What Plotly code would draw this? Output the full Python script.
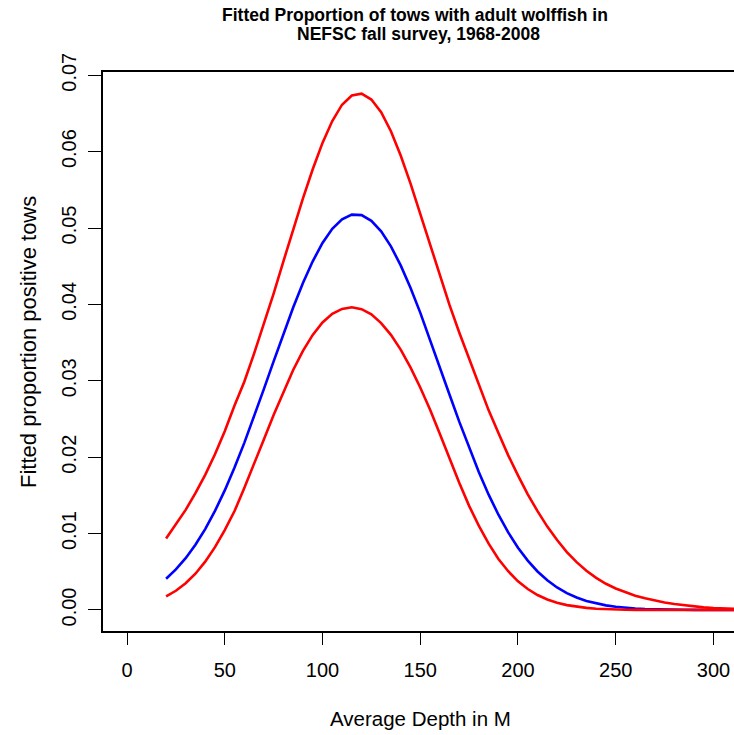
import plotly.graph_objects as go

depth = [20, 25, 30, 35, 40, 45, 50, 55, 60, 65, 70, 75, 80, 85, 90, 95, 100, 105, 110, 115,
         120, 125, 130, 135, 140, 145, 150, 155, 160, 165, 170, 175, 180, 185, 190, 195, 200,
         205, 210, 215, 220, 225, 230, 235, 240, 245, 250, 255, 260, 265, 270, 275, 280, 285,
         290, 295, 300, 305, 310, 315]

fitted = [0.004096, 0.005310, 0.006782, 0.008536, 0.010592, 0.012967, 0.015653, 0.018639,
          0.021877, 0.025320, 0.028904, 0.032545, 0.036145, 0.039598, 0.042799, 0.045643,
          0.048042, 0.049894, 0.051147, 0.051752, 0.051683, 0.050946, 0.049566, 0.047599,
          0.045109, 0.042184, 0.038924, 0.035432, 0.031817, 0.028182, 0.024618, 0.021208,
          0.018019, 0.015094, 0.012467, 0.010156, 0.008159, 0.006462, 0.005044, 0.003884,
          0.002948, 0.002207, 0.001630, 0.001187, 0.000852, 0.000604, 0.000422, 0.000291,
          0.000198, 0.000133, 0.000088, 0.000057, 0.000037, 0.000023, 0.000015, 0.000009,
          0.000005, 0.000003, 0.000002, 0.000001]

upper = [0.009344, 0.011175, 0.013103, 0.015293, 0.017688, 0.020386, 0.023400, 0.026760,
         0.029880, 0.033552, 0.037345, 0.041406, 0.045634, 0.049803, 0.053886, 0.057695,
         0.061144, 0.064002, 0.066140, 0.067347, 0.067577, 0.066816, 0.065153, 0.062671,
         0.059496, 0.055849, 0.051836, 0.047693, 0.043714, 0.039905, 0.036285, 0.032865,
         0.029366, 0.026129, 0.023154, 0.020244, 0.017629, 0.015137, 0.012940, 0.010911,
         0.009161, 0.007586, 0.006260, 0.005140, 0.004207, 0.003429, 0.002813, 0.002301,
         0.001875, 0.001539, 0.001242, 0.000988, 0.000777, 0.000603, 0.000460, 0.000347,
         0.000258, 0.000189, 0.000137, 0.000098]

lower = [0.001790, 0.002516, 0.003500, 0.004749, 0.006324, 0.008225, 0.010444, 0.012948,
         0.015980, 0.019068, 0.022325, 0.025530, 0.028571, 0.031413, 0.033914, 0.036012,
         0.037634, 0.038767, 0.039409, 0.039615, 0.039371, 0.038693, 0.037559, 0.036013,
         0.034077, 0.031748, 0.029128, 0.026233, 0.023080, 0.019832, 0.016637, 0.013627,
         0.011007, 0.008678, 0.006679, 0.005069, 0.003757, 0.002745, 0.001957, 0.001376,
         0.000945, 0.000640, 0.000423, 0.000273, 0.000172, 0.000106, 0.000063, 0.000037,
         0.000021, 0.000011, 0.000006, 0.000003, 0.000002, 0.000001, 0.0, 0.0, 0.0, 0.0,
         0.0, 0.0]

x_ticks = [0, 50, 100, 150, 200, 250, 300]
y_ticks = [0.00, 0.01, 0.02, 0.03, 0.04, 0.05, 0.06, 0.07]
y_ticktext = ["0.00", "0.01", "0.02", "0.03", "0.04", "0.05", "0.06", "0.07"]

title_line1 = "Fitted Proportion of tows with adult wolffish in"
title_line2 = "NEFSC fall survey, 1968-2008"
x_title = "Average Depth in M"
y_title = "Fitted proportion positive tows"

FONT = "Liberation Sans, Arial, sans-serif"

fig = go.Figure()
fig.add_trace(go.Scatter(x=depth, y=fitted, mode="lines", name="Fitted",
                         line=dict(color="#0000FF", width=2.6)))
fig.add_trace(go.Scatter(x=depth, y=upper, mode="lines", name="Upper",
                         line=dict(color="#FF0000", width=2.6)))
fig.add_trace(go.Scatter(x=depth, y=lower, mode="lines", name="Lower",
                         line=dict(color="#FF0000", width=2.6)))

L, T, B = 103, 72, 104
W, H = 734, 735
pw = W - L
ph = H - T - B


def px_x(p):
    return (p - L) / pw


def px_y(p):
    return (H - B - p) / ph


fig.update_layout(
    width=W, height=H,
    margin=dict(l=L, r=0, t=T, b=B, pad=0),
    paper_bgcolor="white", plot_bgcolor="white",
    showlegend=False,
    font=dict(family=FONT, color="black", size=20),
    xaxis=dict(range=[-12.28, 310.5], tickvals=x_ticks, ticks="outside", ticklen=12,
               tickwidth=1.3, tickcolor="black", showline=True, linecolor="black",
               linewidth=1.5, mirror=True, showgrid=False, zeroline=False,
               tickfont=dict(size=20), ticklabelstandoff=8),
    yaxis=dict(range=[-0.00275, 0.07042], tickvals=y_ticks, ticktext=y_ticktext,
               ticks="outside", ticklen=13, tickwidth=1.3, tickcolor="black",
               showline=True, linecolor="black", linewidth=1.5, mirror=False,
               showgrid=False, zeroline=False, tickangle=-90,
               tickfont=dict(size=20), ticklabelstandoff=4),
    annotations=[
        dict(text="<b>" + title_line1 + "</b>", xref="paper", yref="paper",
             x=px_x(415), y=px_y(15), xanchor="center", yanchor="middle",
             showarrow=False, font=dict(family=FONT, size=17.5, color="black")),
        dict(text="<b>" + title_line2 + "</b>", xref="paper", yref="paper",
             x=px_x(418), y=px_y(34), xanchor="center", yanchor="middle",
             showarrow=False, font=dict(family=FONT, size=17.5, color="black")),
        dict(text=x_title, xref="paper", yref="paper",
             x=px_x(420), y=px_y(718), xanchor="center", yanchor="middle",
             showarrow=False, font=dict(family=FONT, size=20.5, color="black")),
        dict(text=y_title, xref="paper", yref="paper",
             x=px_x(28), y=px_y(342), xanchor="center", yanchor="middle",
             textangle=-90, showarrow=False, font=dict(family=FONT, size=22, color="black")),
    ],
)

fig.write_html("out.html")
